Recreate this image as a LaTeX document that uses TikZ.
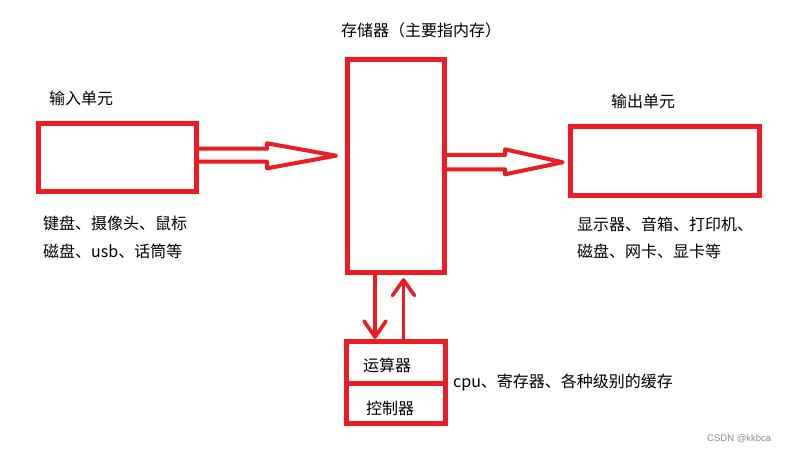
\documentclass[tikz,border=0pt]{standalone}
\usepackage{fontspec}
\newfontfamily\cjk{Noto Sans CJK SC}
\definecolor{pred}{HTML}{ED1C24}
\begin{document}
\begin{tikzpicture}[x=1pt,y=-1pt,
  unitbox/.style={draw=pred,line width=5pt,inner sep=0pt,rectangle},
  fat/.style={draw=pred,line width=4pt,line join=round,line cap=round},
  thin/.style={draw=pred,line width=3.6pt,line join=round},
  lbl/.style={font=\cjk\fontsize{16}{18}\selectfont,inner sep=0pt,anchor=west,text=black},
  wm/.style={font=\fontspec{Liberation Sans}\fontsize{9.5}{11}\selectfont,inner sep=0pt,anchor=west,text=black!45}]
\useasboundingbox[fill=white] (0,0) rectangle (792,454);
% boxes
\node[unitbox,minimum width=158pt,minimum height=68pt] (inbox) at (117.5,157.5) {};
\node[unitbox,minimum width=97pt,minimum height=213pt] (mem) at (396,166) {};
\node[unitbox,minimum width=189pt,minimum height=69pt] (outbox) at (665,161) {};
\node[unitbox,minimum width=99pt,minimum height=42pt] (alu) at (396,362.5) {};
\node[unitbox,minimum width=99pt,minimum height=39.5pt] (ctl) at (396,403.25) {};
% fat arrows
\draw[fat] (inbox.east |- 0,148.7) -- (267,148.7) -- (267,143.3) -- (336,155.7) -- (267,168.3) -- (267,161.7) -- (inbox.east |- 0,161.7);
\draw[fat] (mem.east |- 0,155) -- (505,155) -- (505,149.3) -- (562.7,162.3) -- (505,174.3) -- (505,169.3) -- (mem.east |- 0,169.3);
% thin arrows
\coordinate (d1) at (mem.south -| 375,0);
\coordinate (d2) at (375,337);
\draw[thin] (d1) -- (d2);
\draw[thin,line cap=round] (364,321) -- (d2) -- (386,321);
\coordinate (u1) at (alu.north -| 403.5,0);
\coordinate (u2) at (403.5,280);
\draw[thin] (u1) -- (u2);
\draw[thin,line cap=round] (392.5,295.5) -- (u2) -- (414.5,295.5);
% labels
\node[lbl] (tin) at (49,98) {输入单元};
\node[lbl] (tin1) at (43,223) {键盘、摄像头、鼠标};
\node[lbl] (tin2) at (43,251) {磁盘、usb、话筒等};
\node[lbl] (tout) at (611,101) {输出单元};
\node[lbl] (tout1) at (577,224) {显示器、音箱、打印机、};
\node[lbl] (tout2) at (577,251) {磁盘、网卡、显卡等};
\node[lbl] (tmem) at (341,30) {存储器（主要指内存）};
\node[lbl] (talu) at (363,365) {运算器};
\node[lbl] (tctl) at (366,408) {控制器};
\node[lbl] (tcpu) at (453,383) {cpu、寄存器、各种级别的缓存};
\node[wm] (wmk) at (707,439) {CSDN @kkbca};
\end{tikzpicture}
\end{document}
